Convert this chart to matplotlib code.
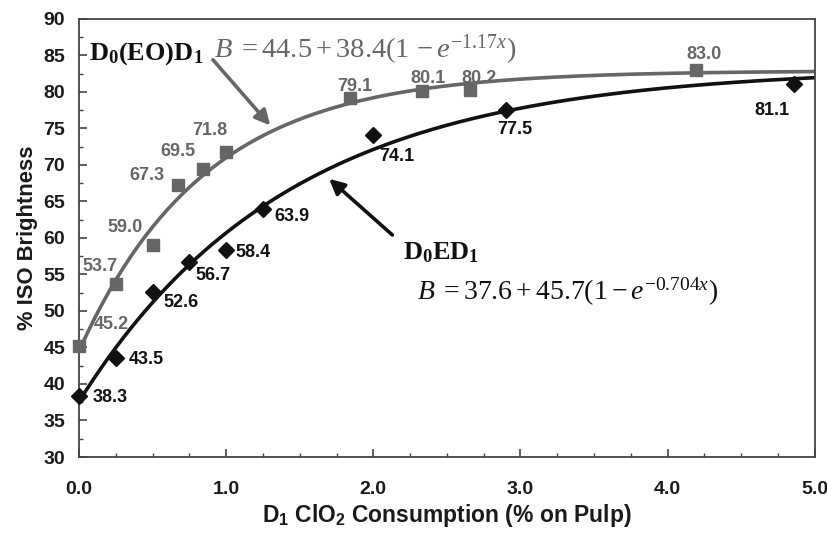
import numpy as np
import matplotlib
matplotlib.use("Agg")
import matplotlib.pyplot as plt
from matplotlib.ticker import MultipleLocator, FormatStrFormatter

plt.rcParams['font.family'] = ['Liberation Sans', 'DejaVu Sans']
plt.rcParams['mathtext.fontset'] = 'custom'
plt.rcParams['mathtext.rm'] = 'Liberation Serif'
plt.rcParams['mathtext.it'] = 'Liberation Serif:italic'
plt.rcParams['mathtext.bf'] = 'Liberation Serif:bold'
plt.rcParams['mathtext.sf'] = 'Liberation Sans:bold'
plt.rcParams['xtick.labelsize'] = 14
plt.rcParams['ytick.labelsize'] = 14

# Data
eo_x = [0.0, 0.25, 0.5, 0.67, 0.84, 1.0, 1.84, 2.33, 2.66, 4.19]
eo_y = [45.2, 53.7, 59.0, 67.3, 69.5, 71.8, 79.1, 80.1, 80.2, 83.0]
e_x = [0.0, 0.25, 0.5, 0.75, 1.0, 1.25, 2.0, 2.9, 4.86]
e_y = [38.3, 43.5, 52.6, 56.7, 58.4, 63.9, 74.1, 77.5, 81.1]

# fit parameters
eo_fit = (44.5, 38.4, 1.17)
e_fit = (37.6, 45.7, 0.704)

# label offsets (data units) for data labels
eo_lab_dx = [0.22, -0.11, -0.19, -0.21, -0.17, -0.11, 0.035, 0.04, 0.06, 0.06]
eo_lab_dy = [2.9, 2.4, 2.4, 1.2, 2.3, 2.9, 1.7, 1.7, 1.6, 2.1]
e_lab_dx = [0.21, 0.21, 0.19, 0.16, 0.18, 0.2, 0.16, 0.06, -0.15]
e_lab_dy = [-0.2, -0.2, -1.5, -1.8, -0.4, -1.0, -3.0, -2.7, -3.6]

gray = '#666666'
black = '#111111'

fig = plt.figure(figsize=(8.28, 5.40), dpi=100)
ax = fig.add_axes([0.0954, 0.1537, 0.8886, 0.8113])

xx = np.linspace(0, 5, 300)
a, b, k = eo_fit
ax.plot(xx, a + b * (1 - np.exp(-k * xx)), color=gray, lw=2.6, zorder=2)
a, b, k = e_fit
ax.plot(xx, a + b * (1 - np.exp(-k * xx)), color=black, lw=2.6, zorder=2)

ax.plot(eo_x, eo_y, 's', color=gray, ms=9, zorder=3, clip_on=False)
ax.plot(e_x, e_y, 'D', color=black, ms=7.8, zorder=3, clip_on=False)

for x, y, dx, dy in zip(eo_x, eo_y, eo_lab_dx, eo_lab_dy):
    ax.text(x + dx, y + dy, f'{y:.1f}', color=gray, fontsize=13, fontweight='bold',
            ha='center', va='center')
for x, y, dx, dy in zip(e_x, e_y, e_lab_dx, e_lab_dy):
    ax.text(x + dx, y + dy, f'{y:.1f}', color=black, fontsize=13, fontweight='bold',
            ha='center', va='center')

ax.text(0.07, 85.3, r'$\mathbf{D_0(EO)D_1}$', color=black, fontsize=19,
        ha='left', va='center')
ax.text(0.92, 85.7, r'$B\;=44.5+38.4(1\,-e^{-1.17x})$', color=gray, fontsize=20.5,
        ha='left', va='center')
ax.text(2.2, 58.0, r'$\mathbf{D_0ED_1}$', color=black, fontsize=19,
        ha='left', va='center')
ax.text(2.3, 52.6, r'$B\;=37.6+45.7(1-e^{-0.704x})$', color=black, fontsize=20,
        ha='left', va='center')

ax.annotate('', xy=(1.30, 75.4), xytext=(0.91, 84.4),
            arrowprops=dict(arrowstyle='-|>,head_length=0.9,head_width=0.45',
                            color=gray, lw=2.6, shrinkA=0, shrinkB=0))
ax.annotate('', xy=(1.70, 68.1), xytext=(2.13, 60.4),
            arrowprops=dict(arrowstyle='-|>,head_length=0.9,head_width=0.45',
                            color=black, lw=2.6, shrinkA=0, shrinkB=0))

ax.set_xlim(0, 5)
ax.set_ylim(30, 90)
ax.xaxis.set_major_locator(MultipleLocator(1.0))
ax.xaxis.set_minor_locator(MultipleLocator(0.25))
ax.yaxis.set_major_locator(MultipleLocator(5))
ax.yaxis.set_minor_locator(MultipleLocator(2.5))
ax.xaxis.set_major_formatter(FormatStrFormatter('%.1f'))
ax.tick_params(which='both', direction='in', colors='#444444', labelcolor='#1a1a1a')
ax.tick_params(which='major', length=6, width=1.2)
ax.tick_params(which='minor', length=3, width=1.0)
ax.tick_params(axis='x', which='major', pad=17)
ax.tick_params(axis='y', which='major', pad=10)
for lab in ax.get_xticklabels() + ax.get_yticklabels():
    lab.set_fontweight('bold')
    lab.set_fontsize(14)
for sp in ax.spines.values():
    sp.set_color('#444444')
    sp.set_linewidth(1.3)

ax.set_xlabel(r'D$_\mathsf{1}$ ClO$_\mathsf{2}$ Consumption (% on Pulp)', fontsize=16.5,
              fontweight='bold', labelpad=3, color='#1a1a1a')
ax.set_ylabel('% ISO Brightness', fontsize=15.8, fontweight='bold', labelpad=4,
              color='#1a1a1a')

fig.savefig('out.png', dpi=100)
